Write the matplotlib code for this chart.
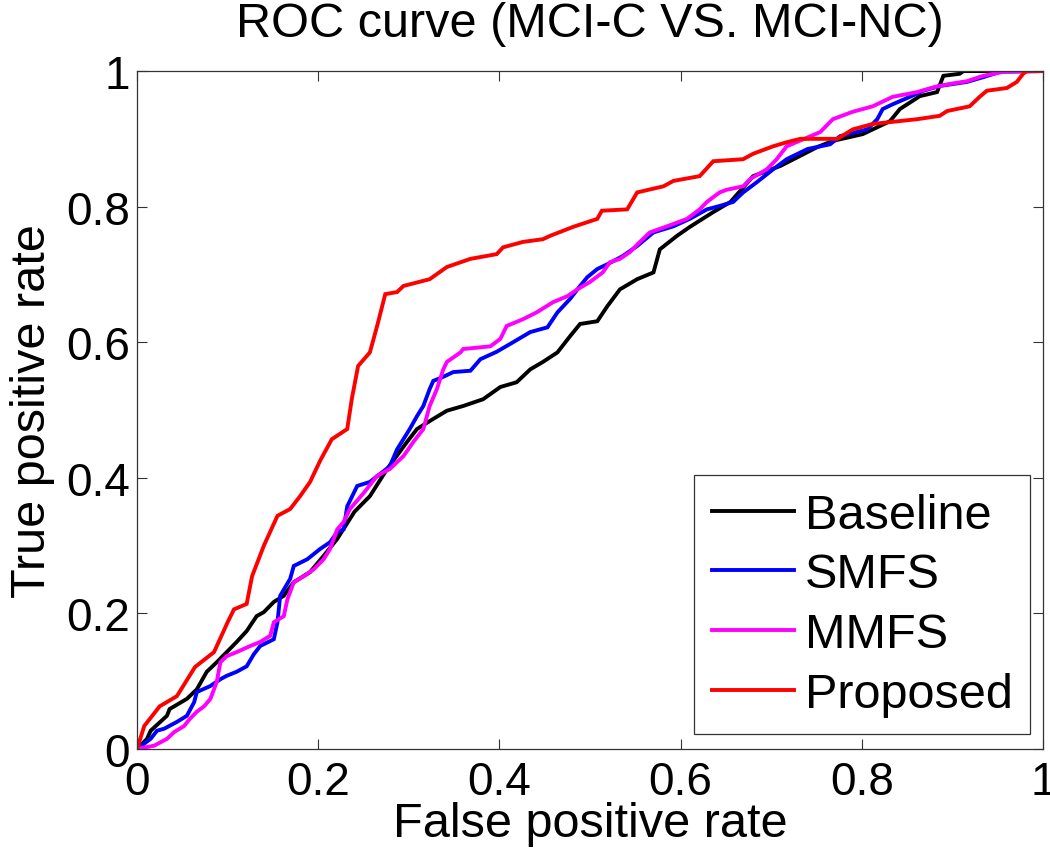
import matplotlib
matplotlib.use("Agg")
import matplotlib.pyplot as plt

# ===== ROC data (FPR, TPR) =====
baseline_fpr = [0, 0.011, 0.015, 0.033, 0.036, 0.055, 0.066, 0.077, 0.088, 0.099, 0.11, 0.121,
                0.132, 0.14, 0.151, 0.162, 0.173, 0.191, 0.206, 0.221, 0.24, 0.257, 0.276,
                0.298, 0.309, 0.327, 0.342, 0.36, 0.382, 0.401, 0.419, 0.434, 0.448, 0.464,
                0.478, 0.489, 0.508, 0.519, 0.533, 0.552, 0.57, 0.577, 0.596, 0.61, 0.636,
                0.655, 0.68, 0.71, 0.732, 0.751, 0.768, 0.801, 0.831, 0.842, 0.864, 0.883,
                0.89, 0.908, 0.912, 1.0]
baseline_tpr = [0, 0.015, 0.027, 0.049, 0.059, 0.074, 0.088, 0.114, 0.128, 0.143, 0.158, 0.174,
                0.196, 0.202, 0.217, 0.226, 0.246, 0.261, 0.285, 0.31, 0.35, 0.373, 0.413,
                0.453, 0.472, 0.487, 0.499, 0.506, 0.516, 0.534, 0.541, 0.56, 0.571, 0.585,
                0.609, 0.627, 0.631, 0.653, 0.678, 0.693, 0.703, 0.737, 0.757, 0.77, 0.792,
                0.807, 0.845, 0.86, 0.875, 0.888, 0.897, 0.907, 0.926, 0.944, 0.963, 0.969,
                0.993, 0.996, 1.0, 1.0]

smfs_fpr = [0, 0.015, 0.022, 0.03, 0.044, 0.055, 0.063, 0.066, 0.081, 0.092, 0.099, 0.11,
            0.121, 0.129, 0.136, 0.151, 0.155, 0.158, 0.169, 0.173, 0.188, 0.202, 0.213,
            0.221, 0.228, 0.232, 0.243, 0.257, 0.279, 0.287, 0.294, 0.301, 0.309, 0.316,
            0.323, 0.327, 0.338, 0.349, 0.368, 0.379, 0.397, 0.415, 0.434, 0.453, 0.464,
            0.478, 0.489, 0.497, 0.508, 0.519, 0.536, 0.552, 0.57, 0.592, 0.61, 0.629,
            0.643, 0.658, 0.669, 0.684, 0.702, 0.717, 0.74, 0.765, 0.776, 0.806, 0.817,
            0.823, 0.834, 0.853, 0.868, 0.886, 0.916, 0.934, 0.953, 1.0]
smfs_tpr = [0, 0.015, 0.027, 0.03, 0.04, 0.049, 0.069, 0.084, 0.093, 0.103, 0.108, 0.114,
            0.122, 0.14, 0.152, 0.162, 0.187, 0.226, 0.251, 0.27, 0.28, 0.295, 0.305,
            0.32, 0.324, 0.358, 0.388, 0.394, 0.417, 0.442, 0.457, 0.472, 0.491, 0.506,
            0.531, 0.543, 0.549, 0.556, 0.558, 0.575, 0.586, 0.6, 0.615, 0.622, 0.644,
            0.664, 0.683, 0.696, 0.708, 0.715, 0.727, 0.742, 0.762, 0.771, 0.782, 0.796,
            0.801, 0.807, 0.821, 0.836, 0.855, 0.87, 0.885, 0.892, 0.904, 0.914, 0.929,
            0.944, 0.951, 0.962, 0.971, 0.978, 0.984, 0.991, 0.999, 1.0]

mmfs_fpr = [0, 0.019, 0.033, 0.041, 0.052, 0.058, 0.066, 0.074, 0.081, 0.088, 0.092, 0.099,
            0.11, 0.125, 0.136, 0.147, 0.151, 0.162, 0.166, 0.173, 0.184, 0.195, 0.206,
            0.213, 0.221, 0.228, 0.235, 0.251, 0.265, 0.279, 0.294, 0.305, 0.316, 0.323,
            0.331, 0.338, 0.342, 0.357, 0.36, 0.39, 0.401, 0.408, 0.426, 0.441, 0.459,
            0.475, 0.486, 0.5, 0.514, 0.522, 0.533, 0.544, 0.555, 0.566, 0.585, 0.607,
            0.621, 0.629, 0.643, 0.651, 0.669, 0.677, 0.695, 0.706, 0.717, 0.754, 0.768,
            0.79, 0.812, 0.834, 0.861, 0.879, 0.897, 0.916, 0.934, 0.956, 1.0]
mmfs_tpr = [0, 0.005, 0.015, 0.025, 0.034, 0.044, 0.055, 0.063, 0.074, 0.099, 0.128, 0.137,
            0.143, 0.152, 0.158, 0.167, 0.187, 0.196, 0.221, 0.246, 0.255, 0.265, 0.28,
            0.295, 0.324, 0.335, 0.354, 0.379, 0.403, 0.413, 0.432, 0.453, 0.472, 0.506,
            0.531, 0.56, 0.571, 0.585, 0.59, 0.594, 0.605, 0.624, 0.634, 0.644, 0.659,
            0.668, 0.678, 0.689, 0.703, 0.718, 0.723, 0.733, 0.748, 0.762, 0.771, 0.782,
            0.796, 0.807, 0.821, 0.825, 0.83, 0.841, 0.855, 0.87, 0.889, 0.91, 0.929,
            0.94, 0.948, 0.962, 0.969, 0.976, 0.981, 0.985, 0.993, 0.999, 1.0]

proposed_fpr = [0, 0.008, 0.025, 0.044, 0.064, 0.085, 0.1, 0.107, 0.121, 0.127, 0.14, 0.155,
                0.169, 0.18, 0.191, 0.202, 0.215, 0.232, 0.237, 0.244, 0.257, 0.265, 0.274,
                0.287, 0.294, 0.323, 0.342, 0.368, 0.397, 0.404, 0.426, 0.448, 0.456, 0.481,
                0.508, 0.513, 0.541, 0.552, 0.581, 0.592, 0.621, 0.636, 0.669, 0.68, 0.702,
                0.717, 0.732, 0.773, 0.79, 0.812, 0.861, 0.886, 0.894, 0.919, 0.93, 0.938,
                0.96, 0.971, 0.978, 0.982, 1.0]
proposed_tpr = [0, 0.034, 0.063, 0.078, 0.121, 0.143, 0.187, 0.206, 0.214, 0.255, 0.3, 0.344,
                0.354, 0.373, 0.394, 0.425, 0.457, 0.472, 0.516, 0.565, 0.585, 0.624, 0.671,
                0.674, 0.683, 0.693, 0.711, 0.723, 0.73, 0.74, 0.748, 0.752, 0.757, 0.77,
                0.782, 0.794, 0.796, 0.821, 0.83, 0.838, 0.845, 0.867, 0.87, 0.878, 0.889,
                0.895, 0.9, 0.9, 0.914, 0.922, 0.929, 0.934, 0.941, 0.948, 0.962, 0.971,
                0.975, 0.984, 0.996, 1.0, 1.0]

series_names = ["Baseline", "SMFS", "MMFS", "Proposed"]
series_colors = ["black", "blue", "magenta", "red"]
x_ticks = [0, 0.2, 0.4, 0.6, 0.8, 1]
x_tick_labels = ["0", "0.2", "0.4", "0.6", "0.8", "1"]

plt.rcParams['font.family'] = ['Liberation Sans', 'DejaVu Sans']

fig = plt.figure(figsize=(10.5, 8.62), dpi=100)
ax = fig.add_axes([0.1305, 0.1299, 0.8629, 0.7865])

kurva = [(baseline_fpr, baseline_tpr), (smfs_fpr, smfs_tpr),
         (mmfs_fpr, mmfs_tpr), (proposed_fpr, proposed_tpr)]
for (fx, fy), nama, warna in zip(kurva, series_names, series_colors):
    ax.plot(fx, fy, color=warna, linewidth=2.8, label=nama, solid_joinstyle="miter")

ax.set_xlim(0, 1)
ax.set_ylim(0, 1)
ax.set_xticks(x_ticks)
ax.set_xticklabels(x_tick_labels)
ax.set_yticks(x_ticks)
ax.set_yticklabels(x_tick_labels)
ax.tick_params(direction="in", length=7, width=0.8, top=True, right=True, labelsize=33, color="#333333")
ax.tick_params(axis="x", pad=8)
ax.tick_params(axis="y", pad=5)
for sp in ax.spines.values():
    sp.set_linewidth(0.9)
    sp.set_color("#333333")

ax.set_title("ROC curve (MCI-C VS. MCI-NC)", fontsize=35, pad=25)
ax.set_xlabel("False positive rate", fontsize=35, labelpad=-2)
ax.set_ylabel("True positive rate", fontsize=35, labelpad=8)

leg = ax.legend(loc="lower right", bbox_to_anchor=(0.986, 0.022), fontsize=35,
                frameon=True, fancybox=False, framealpha=1, edgecolor="#333333",
                handlelength=1.7, handletextpad=0.22, borderpad=0.36, labelspacing=0.3,
                borderaxespad=0)
leg.get_frame().set_linewidth(0.9)

fig.savefig("out.png", dpi=100)
